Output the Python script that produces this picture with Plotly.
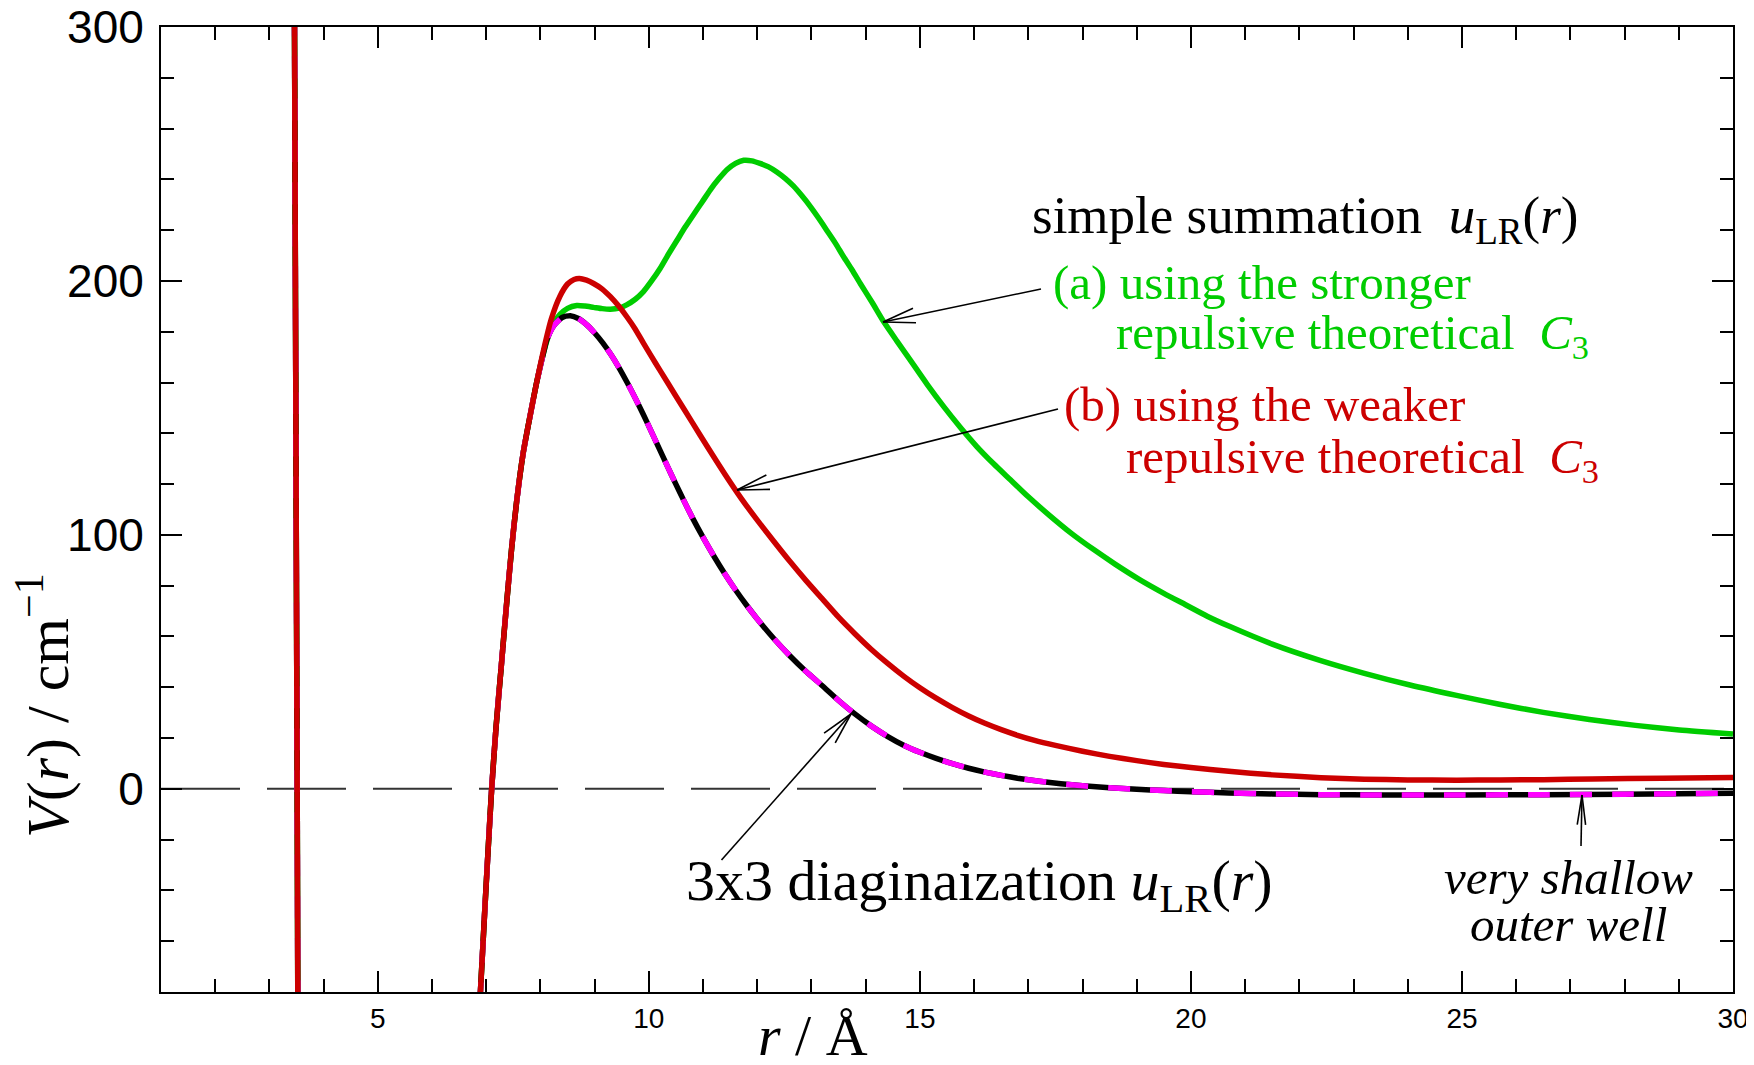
import math
import plotly.graph_objects as go

# ---------------- data ----------------
# shared inner repulsive wall
r_wall = [3.462, 3.470, 3.478, 3.486, 3.494, 3.502, 3.510, 3.518, 3.524]
v_wall = [305, 260, 210, 160, 110, 60, 15, -40, -85]

# shared steep rise out of the deep well
r_rise = [6.88, 6.93, 6.98, 7.04, 7.10, 7.18, 7.28, 7.38, 7.47, 7.56, 7.68, 7.81, 7.93]
v_rise = [-85, -65, -45, -22, 0, 24, 49, 74, 95, 113, 132, 147, 160]

# (a) simple summation, stronger repulsive C3 (green)
r_green = [8.06, 8.15, 8.25, 8.36, 8.50, 8.67, 8.82, 8.98, 9.14, 9.29, 9.45, 9.59, 9.75,
           9.90, 10.05, 10.21, 10.36, 10.52, 10.67, 10.82, 10.98, 11.13, 11.29, 11.44,
           11.60, 11.75, 11.90, 12.05, 12.20, 12.36, 12.52, 12.67, 12.82, 12.98, 13.13,
           13.28, 13.44, 13.59, 13.75, 13.90, 14.12, 14.33, 14.57, 14.82, 15.13, 15.44,
           15.74, 16.05, 16.36, 16.67, 17.00, 17.40, 17.80, 18.20, 18.60, 19.06, 19.50,
           19.90, 20.30, 20.72, 21.50, 22.38, 23.20, 24.04, 24.90, 25.69, 26.50, 27.35,
           28.20, 29.01, 30.00]
v_green = [172, 178.5, 183.5, 186.8, 189.2, 190.3, 190.1, 189.6, 189.1, 188.9, 189.3, 190.6, 192.8,
           195.8, 200, 205, 210.5, 216, 221.2, 226, 231, 235.8, 240.2, 243.8,
           246.3, 247.5, 247.3, 246.3, 245, 242.9, 240.3, 237.3, 233.6, 229.3, 224.8,
           220, 214.9, 209.6, 204.3, 199, 191.5, 184, 176.5, 168.9, 159.4, 150.5,
           142.5, 134.8, 128, 121.7, 115, 107.5, 100.5, 94.3, 88.5, 82.3, 77,
           72.5, 68, 63.9, 57, 50.6, 45.5, 40.9, 36.8, 33.3, 30.1, 27.3,
           25, 23.2, 21.6]

# (b) simple summation, weaker repulsive C3 (red)
r_red = [8.06, 8.20, 8.36, 8.50, 8.62, 8.72, 8.85, 8.98, 9.14, 9.29, 9.44, 9.59, 9.75, 9.90,
         10.05, 10.20, 10.50, 10.80, 11.10, 11.40, 11.70, 12.00, 12.30, 12.60, 12.90, 13.20,
         13.50, 13.80, 14.10, 14.40, 14.70, 15.00, 15.30, 15.60, 15.90, 16.20, 16.50, 16.80,
         17.10, 17.50, 18.00, 18.50, 19.00, 19.50, 20.00, 20.70, 21.50, 22.40, 23.20, 24.00,
         24.90, 25.70, 26.50, 27.40, 28.70, 30.00]
v_red = [173, 185, 194, 198.8, 200.6, 201, 200.3, 199, 196.8, 193.8, 190.2, 186, 181, 175.5,
         170.2, 165.0, 154.6, 144.3, 134.0, 124.0, 114.5, 105.8, 97.6, 89.6, 82.0, 74.8,
         67.6, 61.1, 55.0, 49.5, 44.4, 39.8, 35.7, 32.0, 28.7, 25.8, 23.3, 21.1,
         19.2, 17.1, 14.8, 12.8, 11.1, 9.6, 8.4, 6.9, 5.5, 4.4, 3.8, 3.5,
         3.4, 3.5, 3.6, 3.9, 4.2, 4.5]

# 3x3 diagonalization u_LR(r) (black, overlaid by magenta dashes)
r_black = [8.06, 8.12, 8.25, 8.40, 8.55, 8.70, 8.85, 9.00, 9.15, 9.30, 9.45, 9.60, 9.75, 9.90,
           10.05, 10.20, 10.35, 10.50, 10.65, 10.80, 11.00, 11.20, 11.40, 11.60, 11.80, 12.00,
           12.30, 12.60, 12.90, 13.20, 13.50, 13.80, 14.10, 14.40, 14.70, 15.00, 15.30, 15.60,
           15.90, 16.20, 16.50, 16.80, 17.20, 17.60, 18.00, 18.50, 19.00, 19.50, 20.00, 20.70,
           21.50, 22.40, 23.50, 25.00, 26.50, 28.00, 29.00, 30.00]
v_black = [172, 177, 182.5, 185.6, 186.3, 185.2, 182.8, 179.5, 175.6, 171.0, 165.8, 160.0, 153.8, 147.3,
           140.5, 133.6, 126.7, 119.9, 113.3, 106.9, 99.0, 91.6, 84.7, 78.3, 72.4, 66.9,
           59.3, 52.4, 46.2, 40.6, 34.8, 29.5, 24.8, 20.7, 17.2, 14.4, 12.0, 9.9,
           8.1, 6.6, 5.3, 4.2, 3.0, 2.0, 1.2, 0.4, -0.2, -0.7, -1.15, -1.6,
           -2.0, -2.3, -2.4, -2.4, -2.3, -2.1, -1.9, -1.7]

# zero reference line
r_zero = [1, 30]
v_zero = [0, 0]

x_ticks = [5, 10, 15, 20, 25, 30]
y_ticks = [0, 100, 200, 300]

# ---------------- geometry helpers ----------------
# the page body has an 8px margin; the figure is sized / offset to compensate
OFF = 8
W, H = 1754 - OFF, 1065 - OFF
L, R, T, B = 161, 1733, 27, 992          # plot area in page pixels
XMIN, XMAX, YMIN, YMAX = 1, 30, -80, 300
SX = (R - L) / (XMAX - XMIN)
SY = (B - T) / (YMAX - YMIN)


def px2d(X, Y):
    return XMIN + (X - L) / SX, YMAX - (Y - T) / SY


def px2paper(X, Y):
    return (X - L) / (R - L), (B - Y) / (B - T)


def join(*parts):
    out = []
    for i, p in enumerate(parts):
        if i:
            out.append(None)
        out.extend(p)
    return out


GREEN = "#00CC00"
RED = "#CC0000"
MAGENTA = "#FF00FF"
SERIF = "Liberation Serif, Times New Roman, serif"
SANS = "Liberation Sans, Arial, Helvetica, sans-serif"

fig = go.Figure()

fig.add_trace(go.Scatter(x=r_zero, y=v_zero, mode="lines",
                         line=dict(color="#333333", width=2, dash="79px,27px"),
                         hoverinfo="skip"))


def curve(rt, vt, color, width, dash=None):
    xs = join(r_wall, r_rise + rt)
    ys = join(v_wall, v_rise + vt)
    ln = dict(color=color, width=width, shape="spline", smoothing=0.6)
    if dash:
        ln["dash"] = dash
    fig.add_trace(go.Scatter(x=xs, y=ys, mode="lines", line=ln, connectgaps=False))


curve(r_green, v_green, GREEN, 5.5)
curve(r_black, v_black, "black", 5.5)
curve(r_black, v_black, MAGENTA, 5.5, dash="22px,20px")
curve(r_red, v_red, RED, 5.5)

# ---------------- arrows (line + open V head) ----------------
shapes = []


def arrow(tip, tail, L_head=33, ang=13):
    (xt, yt), (xs, ys) = tip, tail
    tx, ty = px2d(xt, yt)
    sx, sy = px2d(xs, ys)
    shapes.append(dict(type="line", xref="x", yref="y", x0=sx, y0=sy, x1=tx, y1=ty,
                       line=dict(color="black", width=1.6)))
    dx, dy = xs - xt, ys - yt
    n = math.hypot(dx, dy)
    ux, uy = dx / n, dy / n
    for s in (-1, 1):
        a = math.radians(ang) * s
        bx = ux * math.cos(a) - uy * math.sin(a)
        by = ux * math.sin(a) + uy * math.cos(a)
        ex, ey = px2d(xt + L_head * bx, yt + L_head * by)
        shapes.append(dict(type="line", xref="x", yref="y", x0=tx, y0=ty, x1=ex, y1=ey,
                           line=dict(color="black", width=1.6)))


arrow((883, 322), (1041, 289))
arrow((737, 490), (1058, 409))
arrow((851, 714), (721.5, 860))
arrow((1582, 795), (1581, 846), L_head=30, ang=8)

# ---------------- text ----------------
annots = []


def label(text, X_left, Y_mid, size, color="black"):
    x, y = px2d(X_left, Y_mid)
    annots.append(dict(text=text, x=x, y=y, xref="x", yref="y", xanchor="left",
                       yanchor="middle", showarrow=False,
                       font=dict(family=SERIF, size=size, color=color)))


NB = "\u00a0"
label("simple summation" + NB + NB + "<i>u</i><sub>LR</sub>(<i>r</i>)", 1030, 219, 53)
label("(a) using the stronger", 1051, 282, 49, GREEN)
label("repulsive theoretical" + NB + NB + "<i>C</i><sub>3</sub>", 1114, 335, 49, GREEN)
label("(b) using the weaker", 1062, 404, 49, RED)
label("repulsive theoretical" + NB + NB + "<i>C</i><sub>3</sub>", 1124, 459, 49, RED)
label("3x3 diaginaization <i>u</i><sub>LR</sub>(<i>r</i>)", 684, 884, 58)
label("<i>very shallow</i>", 1442, 877, 49)
label("<i>outer well</i>", 1468, 924, 49)

# axis titles
px_, py_ = px2paper(813, 1035)
annots.append(dict(text="<i>r</i> / Å", x=px_, y=py_, xref="paper", yref="paper",
                   xanchor="center", yanchor="middle", showarrow=False,
                   font=dict(family=SERIF, size=58, color="black")))
px_, py_ = px2paper(43, 705)
annots.append(dict(text="<i>V</i>(<i>r</i>) / cm<sup>−1</sup>", x=px_, y=py_,
                   xref="paper", yref="paper", xanchor="center", yanchor="middle",
                   textangle=-90, showarrow=False,
                   font=dict(family=SERIF, size=60, color="black")))

axis_common = dict(showgrid=False, zeroline=False, showline=True, linecolor="black",
                   linewidth=2, mirror="allticks", ticks="inside", ticklen=21,
                   tickwidth=2, tickcolor="black", automargin=False,
                   ticklabeloverflow="allow")

fig.update_layout(
    template="none",
    width=W, height=H,
    margin=dict(l=L - OFF, r=(W + OFF) - R, t=T - OFF, b=(H + OFF) - B, pad=0, autoexpand=False),
    paper_bgcolor="white", plot_bgcolor="white",
    showlegend=False,
    xaxis=dict(range=[XMIN, XMAX], tickvals=x_ticks, ticktext=[str(v) for v in x_ticks],
               tickfont=dict(family=SANS, size=28, color="black"),
               minor=dict(dtick=1, tick0=0, ticks="inside", ticklen=13, tickwidth=2,
                          tickcolor="black", showgrid=False),
               **axis_common),
    yaxis=dict(range=[YMIN, YMAX], tickvals=y_ticks, ticktext=[str(v) for v in y_ticks],
               tickfont=dict(family=SANS, size=46, color="black"),
               ticklabelstandoff=6,
               minor=dict(dtick=20, tick0=0, ticks="inside", ticklen=13, tickwidth=2,
                          tickcolor="black", showgrid=False),
               **axis_common),
    shapes=shapes,
    annotations=annots,
)

fig.write_html("out.html")
